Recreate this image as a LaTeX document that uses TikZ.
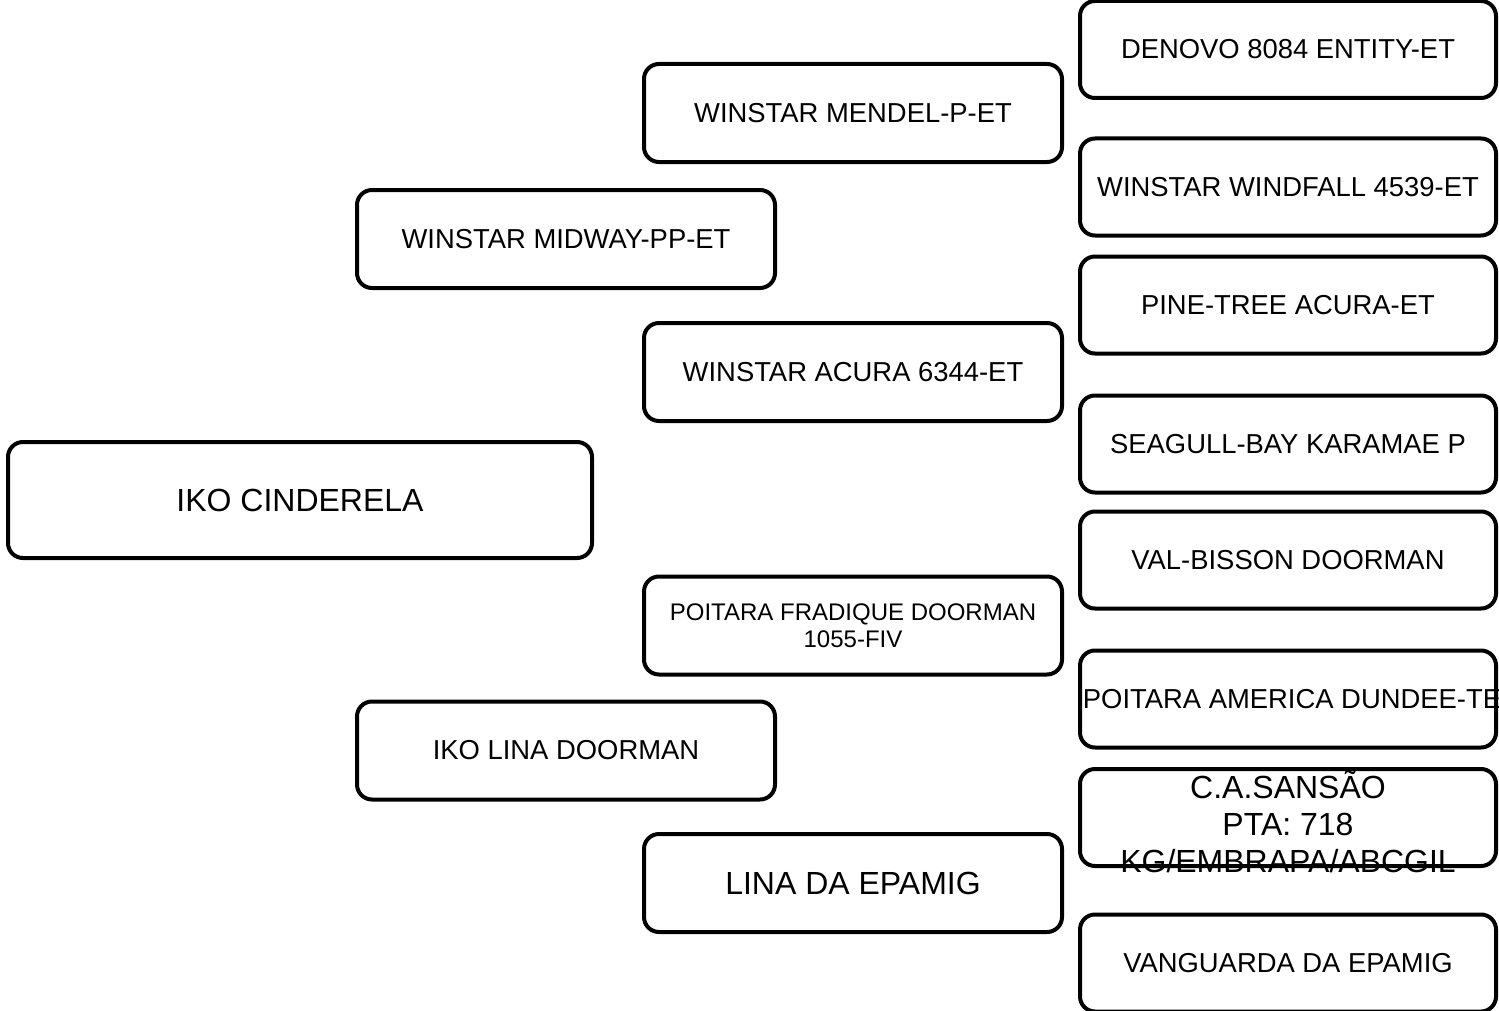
\documentclass[tikz,border=0pt]{standalone}
\usepackage{fontspec}
\setmainfont{Liberation Sans}

\begin{document}
\begin{tikzpicture}[x=0.5pt,y=-0.5pt,
  animal/.style={draw,rectangle,rounded corners=7.5pt,line width=2pt,fill=white,inner sep=0pt,align=center,font=\fontsize{13.7}{16}\selectfont},
  gen1/.style={animal,minimum width=292pt,minimum height=58pt,font=\fontsize{16}{19}\selectfont},
  gen2/.style={animal,minimum width=209pt,minimum height=49pt},
  gen4/.style={animal,minimum width=208pt,minimum height=48.5pt},
  bigname/.style={font=\fontsize{16}{18.5}\selectfont},
  smallname/.style={font=\fontsize{12}{13.5}\selectfont}]
\useasboundingbox (0,0) rectangle (1499,1011);

\node[gen1](1) at (300,500){IKO CINDERELA};

\node[gen2](2) at (566,239){WINSTAR MIDWAY-PP-ET};
\node[gen2](3) at (566,750.5){IKO LINA DOORMAN};

\node[gen2](4) at (853,113){WINSTAR MENDEL-P-ET};
\node[gen2](5) at (853,372){WINSTAR ACURA 6344-ET};
\node[gen2,smallname](6) at (853,625.5){POITARA FRADIQUE DOORMAN\\1055-FIV};
\node[gen2,bigname](7) at (853,883){LINA DA EPAMIG};

\node[gen4](8) at (1288,49.5){DENOVO 8084 ENTITY-ET};
\node[gen4](9) at (1288,187){WINSTAR WINDFALL 4539-ET};
\node[gen4](10) at (1288,305){PINE-TREE ACURA-ET};
\node[gen4](11) at (1288,444){SEAGULL-BAY KARAMAE P};
\node[gen4](12) at (1288,560){VAL-BISSON DOORMAN};
\node[gen4](13) at (1288,699){\makebox[0pt]{\hspace{4pt}POITARA AMERICA DUNDEE-TE}};
\node[gen4,label={[bigname,align=center,yshift=-2pt]center:{C.A.SANSÃO\\PTA: 718\\KG/EMBRAPA/ABCGIL}}](14) at (1288,817.5){};
\node[gen4](15) at (1288,963){VANGUARDA DA EPAMIG};

\end{tikzpicture}
\end{document}
